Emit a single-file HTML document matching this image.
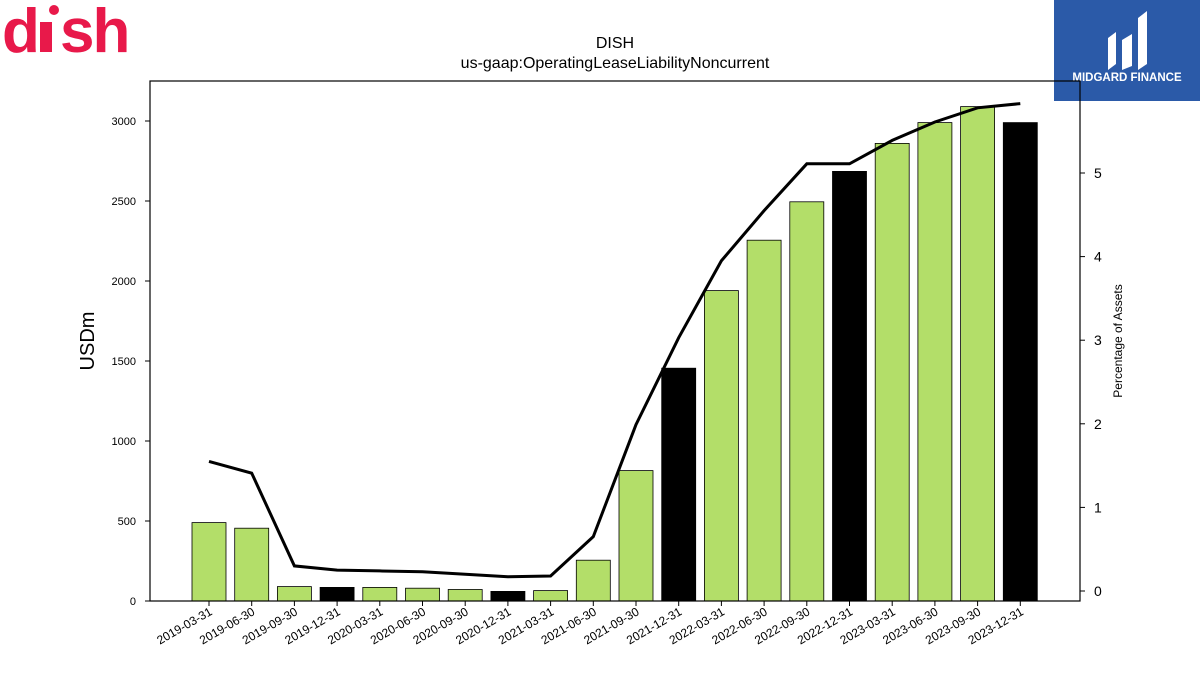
<!DOCTYPE html>
<html><head><meta charset="utf-8"><style>
body{margin:0;background:#fff;width:1200px;height:675px;overflow:hidden;font-family:"Liberation Sans",sans-serif}
</style></head><body>
<svg width="1200" height="675" xmlns="http://www.w3.org/2000/svg" font-family="Liberation Sans, sans-serif">
<g>
<text x="2" y="52" font-size="62" font-weight="bold" fill="#e8194a" letter-spacing="-2">d</text>
<rect x="40" y="22" width="12" height="30" fill="#e8194a"/>
<circle cx="54" cy="10" r="5" fill="#e8194a"/>
<text x="60" y="52" font-size="62" font-weight="bold" fill="#e8194a" letter-spacing="-2">sh</text>
</g>
<g>
<rect x="1054" y="0" width="146" height="101" fill="#2b5aa8"/>
<path d="M1108 70 L1108 38 L1116 32 L1116 64 Z M1122 70 L1122 40 L1132 34 L1132 66 Z M1138 70 L1138 18 L1147 11 L1147 64 Z" fill="#fff"/>
<text x="1127" y="81" font-size="11.5" font-weight="bold" fill="#fff" text-anchor="middle">MIDGARD FINANCE</text>
</g>
<text x="615" y="48" font-size="16" text-anchor="middle">DISH</text>
<text x="615" y="68" font-size="16" text-anchor="middle">us-gaap:OperatingLeaseLiabilityNoncurrent</text>
<g id="plot"></g>
<rect x="150" y="81" width="930" height="520" fill="none" stroke="#000" stroke-width="1.2"/>
<text transform="translate(94,341) rotate(-90)" font-size="20" text-anchor="middle">USDm</text>
<text transform="translate(1122,341) rotate(-90)" font-size="12" text-anchor="middle">Percentage of Assets</text>
</svg>
<script>
const categories=["2019-03-31","2019-06-30","2019-09-30","2019-12-31","2020-03-31","2020-06-30","2020-09-30","2020-12-31","2021-03-31","2021-06-30","2021-09-30","2021-12-31","2022-03-31","2022-06-30","2022-09-30","2022-12-31","2023-03-31","2023-06-30","2023-09-30","2023-12-31"];
const values=[490,455,90,85,85,80,72,60,65,255,815,1455,1940,2255,2495,2685,2860,2990,3090,2990];
const pctAssets=[1.55,1.41,0.30,0.25,0.24,0.23,0.20,0.17,0.18,0.65,1.99,3.03,3.95,4.55,5.11,5.11,5.39,5.61,5.78,5.83];
const leftTicks=[0,500,1000,1500,2000,2500,3000];
const rightTicks=[0,1,2,3,4,5];
const NS="http://www.w3.org/2000/svg";
const g=document.getElementById("plot");
const xc=i=>209+i*42.7;
const yL=v=>601-v*0.16;
const yR=v=>591-v*83.6;
function mk(t,a){const e=document.createElementNS(NS,t);for(const k in a)e.setAttribute(k,a[k]);g.appendChild(e);return e;}
values.forEach((v,i)=>{
 const black=categories[i].endsWith("12-31");
 const r=mk("rect",{x:xc(i)-17,y:yL(v),width:34,height:601-yL(v),fill:black?"#000":"#b3de69",stroke:"#000","stroke-width":0.8});
 
 
 const tk=mk("line",{x1:xc(i),x2:xc(i),y1:601,y2:606,stroke:"#000"});
 
 
 const t=mk("text",{transform:`translate(${xc(i)+4},${614}) rotate(-30)`,"font-size":12,"text-anchor":"end"});
 t.textContent=categories[i];
 
 
});
const p=mk("polyline",{points:pctAssets.map((v,i)=>xc(i)+","+yR(v)).join(" "),fill:"none",stroke:"#000","stroke-width":3});


leftTicks.forEach(v=>{
 const l=mk("line",{x1:145,x2:150,y1:yL(v),y2:yL(v),stroke:"#000"});
 
 
 const t=mk("text",{x:136,y:yL(v)+4,"font-size":11,"text-anchor":"end"});
 t.textContent=v;
 
 
});
rightTicks.forEach(v=>{
 const l=mk("line",{x1:1080,x2:1085,y1:yR(v),y2:yR(v),stroke:"#000"});
 
 
 const t=mk("text",{x:1094,y:yR(v)+5,"font-size":14});
 t.textContent=v;
 
 
});
</script>
</body></html>
